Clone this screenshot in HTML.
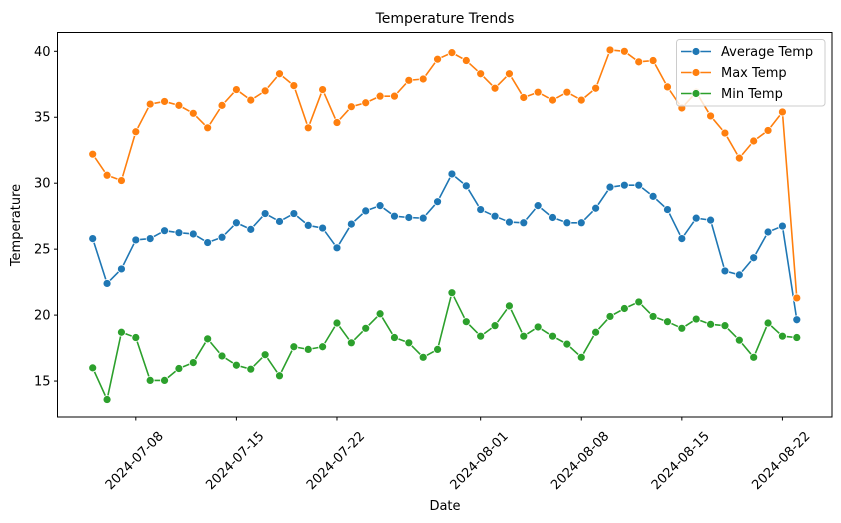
<!DOCTYPE html>
<html><head><meta charset="utf-8"><style>
html,body{margin:0;padding:0;background:#fff;}
svg{display:block;font-family:"DejaVu Sans","Liberation Sans",sans-serif;}
</style></head><body>
<svg id="chart" width="841" height="523" viewBox="0 0 841 523" xmlns="http://www.w3.org/2000/svg">
<text x="445" y="23" font-size="14" text-anchor="middle" fill="#000">Temperature Trends</text>
<text x="0" y="0" font-size="13" text-anchor="middle" transform="translate(20,225) rotate(-90)">Temperature</text>
<text x="445" y="510" font-size="13" text-anchor="middle">Date</text>
<g id="grid"></g>
<g id="series"></g>
<rect x="57.5" y="32.5" width="774.5" height="384.5" fill="none" stroke="#000" stroke-width="1"/>
<g id="legend"></g>
</svg>
<script>
const dates = ["2024-07-05","2024-07-06","2024-07-07","2024-07-08","2024-07-09","2024-07-10","2024-07-11","2024-07-12","2024-07-13","2024-07-14","2024-07-15","2024-07-16","2024-07-17","2024-07-18","2024-07-19","2024-07-20","2024-07-21","2024-07-22","2024-07-23","2024-07-24","2024-07-25","2024-07-26","2024-07-27","2024-07-28","2024-07-29","2024-07-30","2024-07-31","2024-08-01","2024-08-02","2024-08-03","2024-08-04","2024-08-05","2024-08-06","2024-08-07","2024-08-08","2024-08-09","2024-08-10","2024-08-11","2024-08-12","2024-08-13","2024-08-14","2024-08-15","2024-08-16","2024-08-17","2024-08-18","2024-08-19","2024-08-20","2024-08-21","2024-08-22","2024-08-23"];
const avgTemp = [25.8,22.4,23.5,25.7,25.8,26.4,26.25,26.15,25.5,25.9,27.0,26.5,27.7,27.1,27.7,26.8,26.6,25.1,26.9,27.9,28.3,27.5,27.4,27.35,28.6,30.7,29.8,28.0,27.5,27.05,27.0,28.3,27.4,27.0,27.0,28.1,29.7,29.85,29.85,29.0,28.0,25.8,27.35,27.2,23.35,23.05,24.35,26.3,26.75,19.65];
const maxTemp = [32.2,30.6,30.2,33.9,36.0,36.2,35.9,35.3,34.2,35.9,37.1,36.3,37.0,38.3,37.4,34.2,37.1,34.6,35.8,36.1,36.6,36.6,37.8,37.9,39.4,39.9,39.3,38.3,37.2,38.3,36.5,36.9,36.3,36.9,36.3,37.2,40.1,40.0,39.2,39.3,37.3,35.7,36.9,35.1,33.8,31.9,33.2,34.0,35.4,21.3];
const minTemp = [16.0,13.6,18.7,18.3,15.05,15.05,15.95,16.4,18.2,16.9,16.2,15.9,17.0,15.4,17.6,17.4,17.6,19.4,17.9,19.0,20.1,18.3,17.9,16.8,17.4,21.7,19.5,18.4,19.2,20.7,18.4,19.1,18.4,17.8,16.8,18.7,19.9,20.5,21.0,19.9,19.5,19.0,19.7,19.3,19.2,18.1,16.8,19.4,18.4,18.3];
const yTicks = [15,20,25,30,35,40];
const xTickLabels = ["2024-07-08","2024-07-15","2024-07-22","2024-08-01","2024-08-08","2024-08-15","2024-08-22"];
const seriesNames = ["Average Temp","Max Temp","Min Temp"];
const seriesColors = ["#1f77b4","#ff7f0e","#2ca02c"];

const NS = "http://www.w3.org/2000/svg";
const L=57.5,R=832,T=32.5,B=417;
const allV = avgTemp.concat(maxTemp,minTemp);
const vmin=Math.min(...allV), vmax=Math.max(...allV), pad=(vmax-vmin)*0.05;
const y0=vmin-pad, y1=vmax+pad;
const n=dates.length, xpad=(n-1)*0.05;
function xScale(i){return L+(i+xpad)/((n-1)+2*xpad)*(R-L);}
function yScale(v){return B-(v-y0)/(y1-y0)*(B-T);}
function mk(tag,attrs,parent){const e=document.createElementNS(NS,tag);for(const k in attrs)e.setAttribute(k,attrs[k]);parent.appendChild(e);return e;}
const grid=document.getElementById("grid");
yTicks.forEach(t=>{
  const y=yScale(t);
  const tk=mk("line",{x1:L-3.5,x2:L,y1:y,y2:y,stroke:"#000"},grid);
  
  
  const tx=mk("text",{x:L-7,y:y+4.5,"font-size":"13","text-anchor":"end"},grid);
  
  
  tx.textContent=t;
});
xTickLabels.forEach(lbl=>{
  const i=dates.indexOf(lbl);
  const x=xScale(i);
  const tk=mk("line",{x1:x,x2:x,y1:B,y2:B+3.5,stroke:"#000"},grid);
  
  
  const tx=mk("text",{x:0,y:0,"font-size":"13","text-anchor":"middle","dominant-baseline":"central",transform:`translate(${x-1},${B+44}) rotate(-45)`},grid);
  
  
  tx.textContent=lbl;
});
const sg=document.getElementById("series");
[avgTemp,maxTemp,minTemp].forEach((arr,si)=>{
  const g=mk("g",{},sg);
  
  
  const pts=arr.map((v,i)=>xScale(i).toFixed(2)+","+yScale(v).toFixed(2)).join(" ");
  const pl=mk("polyline",{points:pts,fill:"none",stroke:seriesColors[si],"stroke-width":"1.6","stroke-linejoin":"round"},g);
  
  
  arr.forEach((v,i)=>{
    const c=mk("circle",{cx:xScale(i),cy:yScale(v),r:"4",fill:seriesColors[si],stroke:"#fff","stroke-width":"0.8"},g);
    
    
  });
});
const lg=document.getElementById("legend");
const lb=mk("rect",{x:676.5,y:39.5,width:148.5,height:66.5,rx:3,fill:"#fff","fill-opacity":"0.8",stroke:"#ccc"},lg);


seriesNames.forEach((nm,si)=>{
  const y=51.5+si*21;
  const g=mk("g",{},lg);
  
  
  mk("line",{x1:681,x2:711,y1:y,y2:y,stroke:seriesColors[si],"stroke-width":"1.6"},g);
  mk("circle",{cx:696,cy:y,r:"4",fill:seriesColors[si],stroke:"#fff","stroke-width":"0.8"},g);
  const t=mk("text",{x:721,y:y+4.5,"font-size":"13"},g);
  t.textContent=nm;
});
</script>
</body></html>
